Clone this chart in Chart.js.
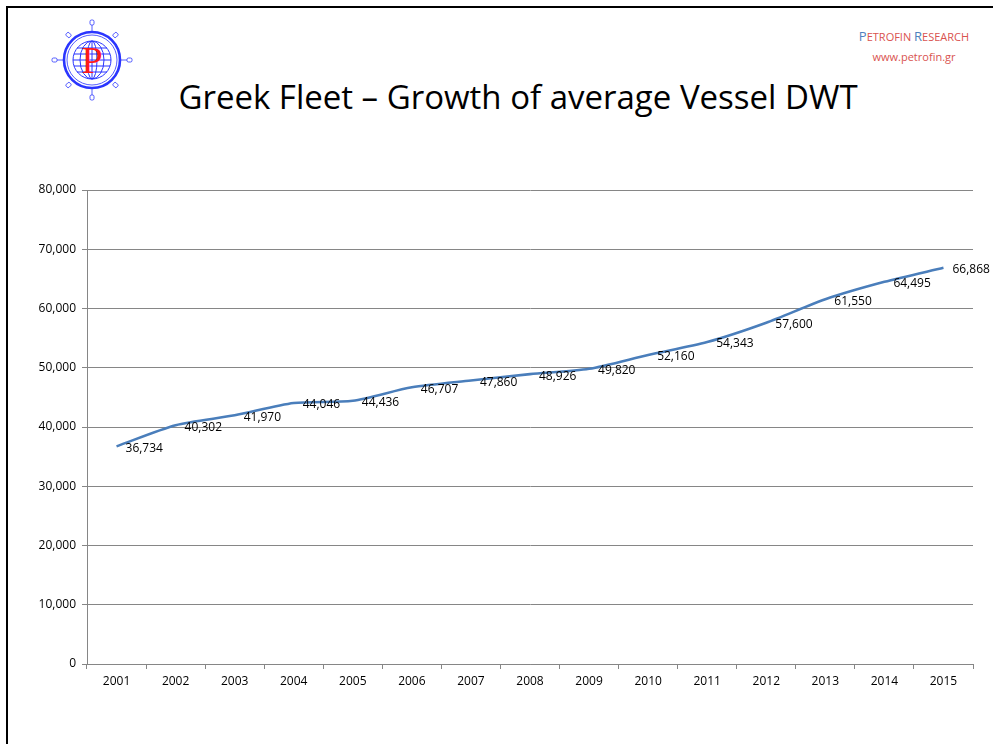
<!DOCTYPE html>
<html>
<head>
<meta charset="utf-8">
<title>Greek Fleet – Growth of average Vessel DWT</title>
<script src="https://cdn.jsdelivr.net/npm/chart.js@4"></script>
<style>
    html, body { margin: 0; padding: 0; background: #fff; }
    #slide { position: relative; width: 993px; height: 744px; overflow: hidden; background: #fff; }
    #frame { position: absolute; left: 6px; top: 6px; right: -10px; bottom: -10px;
             border-left: 2px solid #000; border-top: 2px solid #000; }
    #logo { position: absolute; left: 46px; top: 14px; }
    #brand { position: absolute; left: 834px; top: 26px; width: 160px; text-align: center;
             font-family: "Open Sans", sans-serif; color: #d9534f; line-height: 20px; }
    #brand .name { font-size: 11px; letter-spacing: 0; }
    #brand .name b { font-weight: normal; font-size: 13px; color: #4f81bd; }
    #brand .url { font-size: 11px; }
    #title { position: absolute; left: 0; width: 1036px; top: 74px; text-align: center;
             font-family: "Open Sans", sans-serif; font-size: 33px; color: #000; }
    #chartBox { position: absolute; left: 0; top: 0; width: 993px; height: 744px; }
</style>
</head>
<body>
<div id="slide">
    <div id="frame"></div>

    <!-- company logo: ringed globe with the letter P -->
    <svg id="logo" width="92" height="92" viewBox="0 0 92 92">
        <g stroke="#2a35ff" fill="none">
            <g stroke-width="0.8">
                <line x1="46" y1="8" x2="46" y2="18"/>
                <line x1="46" y1="74" x2="46" y2="84"/>
                <line x1="8" y1="46" x2="18" y2="46"/>
                <line x1="74" y1="46" x2="84" y2="46"/>
            </g>
            <g stroke-width="0.8" fill="#fff">
                <rect x="44" y="6" width="4" height="5" rx="1.5"/>
                <rect x="44" y="81" width="4" height="5" rx="1.5"/>
                <rect x="6" y="44" width="5" height="4" rx="1.5"/>
                <rect x="81" y="44" width="5" height="4" rx="1.5"/>
                <rect x="20" y="19" width="5" height="4" rx="1.5" transform="rotate(45 22.5 21)"/>
                <rect x="67" y="19" width="5" height="4" rx="1.5" transform="rotate(-45 69.5 21)"/>
                <rect x="20" y="69" width="5" height="4" rx="1.5" transform="rotate(-45 22.5 71)"/>
                <rect x="67" y="69" width="5" height="4" rx="1.5" transform="rotate(45 69.5 71)"/>
            </g>
            <circle cx="46" cy="46" r="28" stroke-width="2.6" fill="#fff"/>
            <circle cx="46" cy="46" r="25" stroke-width="0.8"/>
            <g stroke-width="1">
                <circle cx="46" cy="46" r="19"/>
                <ellipse cx="46" cy="46" rx="12" ry="19"/>
                <ellipse cx="46" cy="46" rx="5" ry="19"/>
                <line x1="46" y1="27" x2="46" y2="65"/>
                <line x1="28" y1="40" x2="64" y2="40"/>
                <line x1="27" y1="46" x2="65" y2="46"/>
                <line x1="28" y1="52" x2="64" y2="52"/>
                <line x1="31" y1="34" x2="61" y2="34"/>
                <line x1="31" y1="58" x2="61" y2="58"/>
            </g>
        </g>
        <text x="46" y="59" text-anchor="middle" font-family="Liberation Serif, serif"
              font-size="38" fill="#ff1a1a">P</text>
    </svg>

    <div id="brand">
        <div class="name"><b>P</b>ETROFIN <b>R</b>ESEARCH</div>
        <div class="url">www.petrofin.gr</div>
    </div>

    <div id="title">Greek Fleet – Growth of average Vessel DWT</div>

    <div id="chartBox"><canvas id="dwtChart" width="993" height="744"></canvas></div>
</div>

<script>
// average deadweight per vessel, Greek-owned fleet
const years = ['2001', '2002', '2003', '2004', '2005', '2006', '2007', '2008',
               '2009', '2010', '2011', '2012', '2013', '2014', '2015'];
const avgDwt = [36734, 40302, 41970, 44046, 44436, 46707, 47860, 48926,
                49820, 52160, 54343, 57600, 61550, 64495, 66868];
const yTicks = [0, 10000, 20000, 30000, 40000, 50000, 60000, 70000, 80000];

const fmt = v => v.toLocaleString('en-US');

// writes each value just right of its point, like the spreadsheet labels
const pointLabels = {
    id: 'pointLabels',
    afterDatasetsDraw(chart) {
        const ctx = chart.ctx;
        const meta = chart.getDatasetMeta(0);
        ctx.save();
        ctx.font = '12px "Open Sans"';
        ctx.fillStyle = '#000';
        ctx.textAlign = 'left';
        ctx.textBaseline = 'middle';
        meta.data.forEach((pt, i) => {
            ctx.fillText(fmt(avgDwt[i]), pt.x + 9, pt.y + 2);
        });
        ctx.restore();
    }
};

const ctx = document.getElementById('dwtChart').getContext('2d');
const chart = new Chart(ctx, {
    type: 'line',
    data: {
        labels: years,
        datasets: [{
            data: avgDwt,
            borderColor: '#4a7ebb',
            borderWidth: 2.6,
            tension: 0.25,
            pointRadius: 0,
            fill: false
        }]
    },
    options: {
        responsive: false,
        animation: false,
        layout: { padding: { left: 0, right: 20, top: 190, bottom: 40 } },
        plugins: {
            legend: { display: false },
            tooltip: { enabled: false }
        },
        scales: {
            x: {
                offset: true,
                grid: { offset: true, drawOnChartArea: false, drawTicks: true,
                        tickLength: 5, color: '#868686' },
                border: { color: '#868686', width: 1 },
                ticks: { color: '#000', font: { family: 'Open Sans', size: 12 },
                         padding: 5, maxRotation: 0 },
                afterFit(scale) { scale.height = 40; }
            },
            y: {
                min: 0,
                max: 80000,
                afterBuildTicks(scale) { scale.ticks = yTicks.map(v => ({ value: v })); },
                grid: { color: '#868686', tickLength: 5 },
                border: { color: '#868686', width: 1 },
                ticks: { color: '#000', font: { family: 'Open Sans', size: 12 },
                         padding: 6, callback: v => fmt(v) },
                afterFit(scale) { scale.width = 87; }
            }
        }
    },
    plugins: [pointLabels]
});
</script>
</body>
</html>
